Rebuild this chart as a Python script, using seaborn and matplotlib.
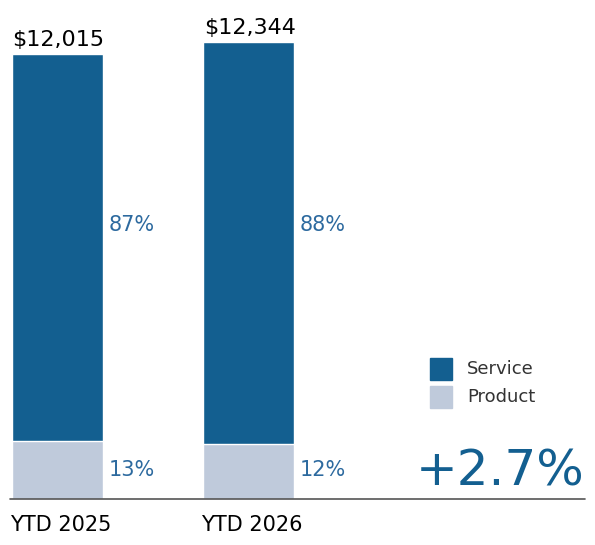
import pandas as pd
import matplotlib.pyplot as plt
import seaborn as sns
from matplotlib.patches import Rectangle

periods = ["YTD 2025", "YTD 2026"]
totals = [12015, 12344]
service_pct = [87, 88]
product_pct = [13, 12]
growth = "+2.7%"

dark = "#135F90"
light = "#BFCADB"
label_blue = "#2D6A9F"

df = pd.DataFrame({"period": periods, "total": totals,
                   "product": [t * p / 100 for t, p in zip(totals, product_pct)]})

sns.set_style("white")
fig = plt.figure(figsize=(5.95, 5.45), dpi=100)
ax = fig.add_axes([0, 0, 1, 1])

sns.barplot(data=df, x="period", y="total", color=dark, width=0.475, saturation=1, ax=ax)
sns.barplot(data=df, x="period", y="product", color=light, width=0.475, saturation=1, ax=ax)

px = 27.0  # data units per pixel
ax.set_xlim(-0.300, 2.807)
ax.set_ylim(-46 * px, 499 * px)
ax.axis("off")

ax.plot([-0.25, 2.755], [0, 0], color="#555555", lw=1.2)

for i, (t, s, p) in enumerate(zip(totals, service_pct, product_pct)):
    ax.text(i - 0.235, t + 4 * px, f"${t:,}", ha="left", va="bottom", fontsize=16, color="black")
    ax.text(i + 0.265, 274 * px, f"{s}%", ha="left", va="center", fontsize=15, color=label_blue)
    ax.text(i + 0.265, 29 * px, f"{p}%", ha="left", va="center", fontsize=15, color=label_blue)
    ax.text(i - 0.25, -26 * px, periods[i], ha="left", va="center", fontsize=15, color="black")

# legend
for j, (name, c) in enumerate([("Service", dark), ("Product", light)]):
    x0 = (430 - 57.5) / 191.5
    y0 = (499 - 380 - j * 28) * px
    ax.add_patch(Rectangle((x0, y0), 22 / 191.5, 22 * px, color=c, clip_on=False))
    ax.text((467 - 57.5) / 191.5, y0 + 11 * px, name, ha="left", va="center", fontsize=13, color="#333333")

ax.text((585 - 57.5) / 191.5, 4 * px, growth, ha="right", va="bottom", fontsize=36, color=dark)

plt.savefig("out.png", dpi=100)
